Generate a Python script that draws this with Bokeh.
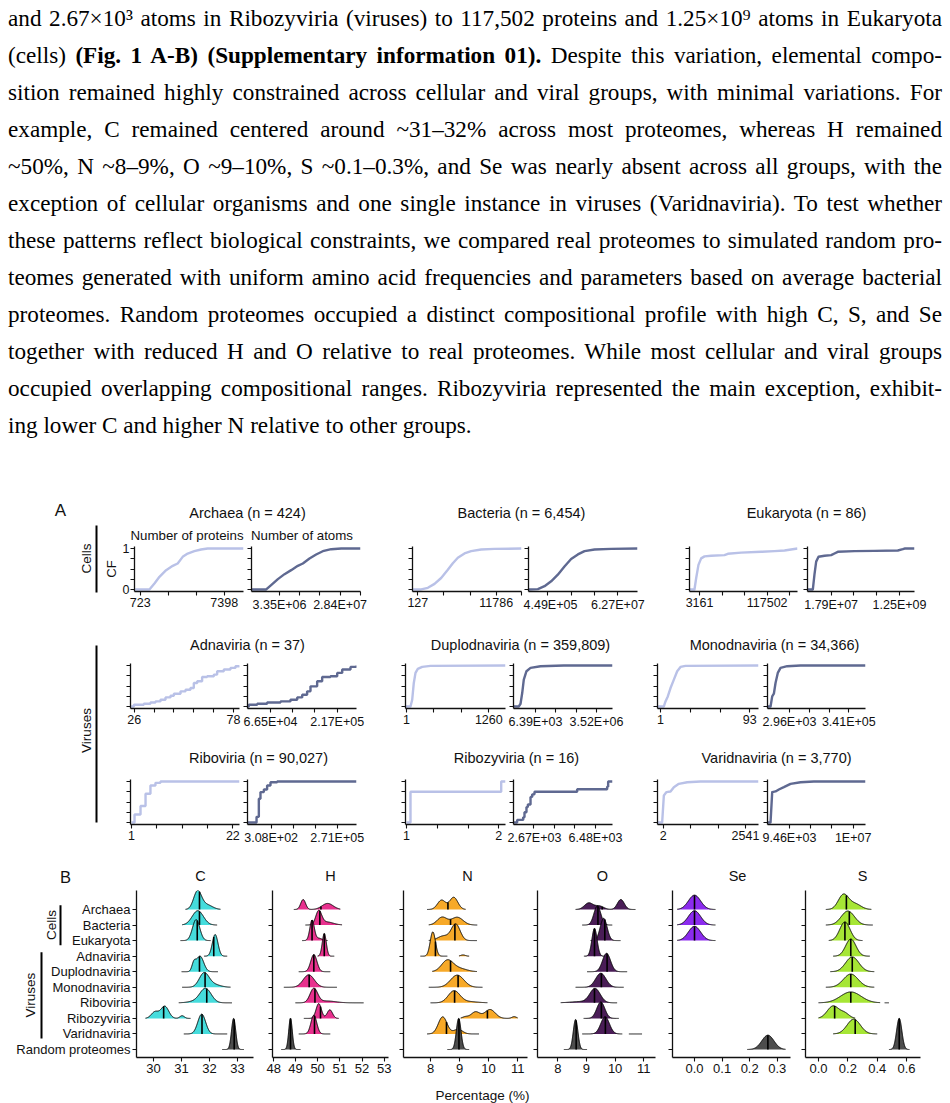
import numpy as np
from bokeh.plotting import figure
from bokeh.models import Div, Spacer, Range1d, FixedTicker, CustomJSTickFormatter
from bokeh.layouts import row, column
from bokeh.core.properties import value
from bokeh.embed import file_html
from bokeh.resources import INLINE

SANS = "Liberation Sans"
SERIF = "Liberation Serif"
INK = "#111111"

# ---------------------------------------------------------------- paragraph
PARAGRAPH = [
    "and 2.67×10³ atoms in Ribozyviria (viruses) to 117,502 proteins and 1.25×10⁹ atoms in Eukaryota",
    "(cells) <b>(Fig. 1 A-B) (Supplementary information 01).</b> Despite this variation, elemental compo-",
    "sition remained highly constrained across cellular and viral groups, with minimal variations. For",
    "example, C remained centered around ~31–32% across most proteomes, whereas H remained",
    "~50%, N ~8–9%, O ~9–10%, S ~0.1–0.3%, and Se was nearly absent across all groups, with the",
    "exception of cellular organisms and one single instance in viruses (Varidnaviria). To test whether",
    "these patterns reflect biological constraints, we compared real proteomes to simulated random pro-",
    "teomes generated with uniform amino acid frequencies and parameters based on average bacterial",
    "proteomes. Random proteomes occupied a distinct compositional profile with high C, S, and Se",
    "together with reduced H and O relative to real proteomes. While most cellular and viral groups",
    "occupied overlapping compositional ranges. Ribozyviria represented the main exception, exhibit-",
    "ing lower C and higher N relative to other groups.",
]

# ---------------------------------------------------------------- panel A data
# cumulative fraction (CF) curves; position is the fraction along each x axis
GROUP_NAMES = ["Archaea", "Bacteria", "Eukaryota",
               "Adnaviria", "Duplodnaviria", "Monodnaviria",
               "Riboviria", "Ribozyviria", "Varidnaviria"]
GROUP_N = ["424", "6,454", "86", "37", "359,809", "34,366", "90,027", "16", "3,770"]

ARCHAEA_PROT_POS = [0.006, 0.137, 0.183, 0.229, 0.290, 0.351, 0.396, 0.442, 0.488, 0.549, 0.610, 0.671, 1.0]
ARCHAEA_PROT_CF = [0, 0, 0.146, 0.309, 0.472, 0.577, 0.634, 0.797, 0.878, 0.935, 0.976, 1.0, 1.0]
ARCHAEA_ATOM_POS = [0.003, 0.135, 0.180, 0.242, 0.303, 0.364, 0.425, 0.471, 0.532, 0.593, 0.654, 0.731, 0.823, 1.0]
ARCHAEA_ATOM_CF = [0, 0, 0.106, 0.252, 0.374, 0.472, 0.577, 0.634, 0.756, 0.854, 0.935, 0.984, 1.0, 1.0]

BACTERIA_PROT_POS = [0.003, 0.080, 0.141, 0.202, 0.263, 0.324, 0.370, 0.416, 0.477, 0.538, 0.630, 0.752, 1.0]
BACTERIA_PROT_CF = [0, 0, 0.04, 0.136, 0.28, 0.48, 0.64, 0.776, 0.88, 0.936, 0.976, 0.992, 1.0]
BACTERIA_ATOM_POS = [0.003, 0.086, 0.147, 0.208, 0.269, 0.330, 0.391, 0.453, 0.514, 0.606, 0.758, 1.0]
BACTERIA_ATOM_CF = [0, 0.008, 0.08, 0.2, 0.36, 0.56, 0.744, 0.856, 0.936, 0.976, 0.992, 1.0]

EUKARYOTA_PROT_POS = [0.003, 0.046, 0.062, 0.083, 0.108, 0.139, 0.201, 0.324, 0.355, 0.478, 0.664, 0.787, 0.88, 1.0]
EUKARYOTA_PROT_CF = [0, 0, 0.28, 0.6, 0.76, 0.808, 0.824, 0.84, 0.872, 0.9, 0.92, 0.936, 0.952, 1.0]
EUKARYOTA_ATOM_POS = [0.003, 0.05, 0.065, 0.081, 0.103, 0.159, 0.221, 0.252, 0.283, 0.439, 0.626, 0.844, 0.891, 0.907, 1.0]
EUKARYOTA_ATOM_CF = [0, 0, 0.36, 0.68, 0.8, 0.824, 0.84, 0.88, 0.92, 0.936, 0.944, 0.952, 0.984, 1.0, 1.0]

ADNAVIRIA_PROT_POS = [0.006, 0.031, 0.122, 0.183, 0.229, 0.275, 0.321, 0.367, 0.398, 0.459, 0.505, 0.550,
                      0.581, 0.612, 0.657, 0.703, 0.765, 0.795, 0.856, 0.917, 0.963, 1.0]
ADNAVIRIA_PROT_CF = [0, 0.041, 0.066, 0.098, 0.123, 0.164, 0.221, 0.262, 0.311, 0.369, 0.41, 0.451,
                     0.574, 0.615, 0.721, 0.738, 0.779, 0.861, 0.902, 0.943, 0.984, 1.0]
ADNAVIRIA_ATOM_POS = [0.003, 0.012, 0.089, 0.180, 0.303, 0.394, 0.456, 0.502, 0.547, 0.578, 0.639, 0.685,
                      0.761, 0.823, 0.869, 0.945, 1.0]
ADNAVIRIA_ATOM_CF = [0, 0.041, 0.066, 0.098, 0.123, 0.164, 0.221, 0.287, 0.369, 0.492, 0.615, 0.721,
                     0.738, 0.82, 0.902, 0.967, 1.0]

DUPLODNAVIRIA_PROT_POS = [0.003, 0.05, 0.067, 0.083, 0.1, 0.123, 0.167, 0.25, 1.0]
DUPLODNAVIRIA_PROT_CF = [0, 0, 0.164, 0.574, 0.82, 0.918, 0.967, 0.992, 1.0]
DUPLODNAVIRIA_ATOM_POS = [0.003, 0.054, 0.071, 0.088, 0.104, 0.131, 0.172, 0.273, 0.508, 1.0]
DUPLODNAVIRIA_ATOM_CF = [0, 0, 0.066, 0.328, 0.656, 0.861, 0.943, 0.984, 1.0, 1.0]

MONODNAVIRIA_PROT_POS = [0.003, 0.063, 0.079, 0.102, 0.129, 0.162, 0.195, 0.228, 0.277, 1.0]
MONODNAVIRIA_PROT_CF = [0, 0, 0.123, 0.246, 0.451, 0.656, 0.861, 0.967, 0.992, 1.0]
MONODNAVIRIA_ATOM_POS = [0.003, 0.031, 0.048, 0.065, 0.082, 0.105, 0.133, 0.201, 0.337, 1.0]
MONODNAVIRIA_ATOM_CF = [0, 0, 0.246, 0.311, 0.574, 0.82, 0.943, 0.984, 1.0, 1.0]

RIBOVIRIA_PROT_POS = [0.009, 0.037, 0.092, 0.138, 0.183, 0.229, 0.275, 1.0]
RIBOVIRIA_PROT_CF = [0, 0.194, 0.403, 0.702, 0.903, 0.968, 1.0, 1.0]
RIBOVIRIA_ATOM_POS = [0.003, 0.058, 0.083, 0.104, 0.119, 0.150, 0.180, 0.211, 0.272, 1.0]
RIBOVIRIA_ATOM_CF = [0, 0, 0.137, 0.581, 0.742, 0.806, 0.903, 0.984, 1.0, 1.0]

RIBOZYVIRIA_PROT_POS = [0.01, 0.05, 0.957, 1.0]
RIBOZYVIRIA_PROT_CF = [0, 0.75, 1.0, 1.0]
RIBOZYVIRIA_ATOM_POS = [0.003, 0.037, 0.098, 0.111, 0.131, 0.145, 0.172, 0.189, 0.212, 0.643, 0.946, 0.956, 1.0]
RIBOZYVIRIA_ATOM_CF = [0, 0.0625, 0.125, 0.25, 0.375, 0.4375, 0.625, 0.6875, 0.75, 0.8125, 0.875, 1.0, 1.0]

VARIDNAVIRIA_PROT_POS = [0.003, 0.046, 0.063, 0.089, 0.129, 0.162, 0.211, 0.294, 0.426, 1.0]
VARIDNAVIRIA_PROT_CF = [0, 0, 0.661, 0.742, 0.758, 0.863, 0.944, 0.984, 1.0, 1.0]
VARIDNAVIRIA_ATOM_POS = [0.003, 0.031, 0.048, 0.082, 0.116, 0.167, 0.235, 0.337, 0.473, 1.0]
VARIDNAVIRIA_ATOM_CF = [0, 0, 0.742, 0.758, 0.806, 0.863, 0.944, 0.984, 1.0, 1.0]

# tick labels at the two ends of every x axis: (min label, max label)
PROT_TICK_LABELS = [("723", "7398"), ("127", "11786"), ("3161", "117502"),
                    ("26", "78"), ("1", "1260"), ("1", "93"),
                    ("1", "22"), ("1", "2"), ("2", "2541")]
ATOM_TICK_LABELS = [("3.35E+06", "2.84E+07"), ("4.49E+05", "6.27E+07"), ("1.79E+07", "1.25E+09"),
                    ("6.65E+04", "2.17E+05"), ("6.39E+03", "3.52E+06"), ("2.96E+03", "3.41E+05"),
                    ("3.08E+02", "2.71E+05"), ("2.67E+03", "6.48E+03"), ("9.46E+03", "1E+07")]

# ---------------------------------------------------------------- panel B data
CATEGORIES = ["Archaea", "Bacteria", "Eukaryota", "Adnaviria", "Duplodnaviria",
              "Monodnaviria", "Riboviria", "Ribozyviria", "Varidnaviria", "Random proteomes"]
ELEMENTS = ["C", "H", "N", "O", "Se", "S"]

# density peaks per ridge: (centre %, spread %, height in rows)
C_SPANS = [[(31.14, 32.39)], [(31.02, 32.27)], [(30.96, 32.04)], [(31.8, 32.63)], [(31.0, 32.3)],
           [(31.02, 32.75)], [(30.9, 32.8)], [(29.71, 31.32)], [(31.08, 32.63)], [(32.45, 33.23)]]
C_PEAKS = [[(31.57, 0.14, 1.15), (31.9, 0.2, 0.3)],
           [(31.58, 0.2, 0.92)],
           [(31.52, 0.13, 1.35)],
           [(32.2, 0.1, 1.39)],
           [(31.44, 0.07, 0.5), (31.66, 0.13, 1.0)],
           [(31.8, 0.17, 0.85), (32.1, 0.25, 0.2)],
           [(31.86, 0.2, 0.9), (31.5, 0.25, 0.1)],
           [(30.05, 0.13, 0.42), (30.4, 0.14, 0.78), (31.02, 0.08, 0.17)],
           [(31.72, 0.14, 1.27)],
           [(32.86, 0.075, 2.0)]]
C_MEDIANS = [31.64, 31.64, 31.56, 32.15, 31.64, 31.84, 31.9, 30.36, 31.73, 32.88]

H_SPANS = [[(48.93, 51.02)], [(49.45, 51.1)], [(49.3, 50.45)], [(50.0, 50.75)], [(49.15, 50.57)],
           [(48.48, 50.87)], [(49.0, 52.07)], [(49.38, 50.95)], [(49.15, 50.57)], [(48.36, 49.23)]]
H_PEAKS = [[(49.35, 0.11, 0.64), (50.45, 0.25, 0.39)],
           [(50.05, 0.13, 0.85), (50.4, 0.3, 0.2)],
           [(49.75, 0.1, 1.3), (50.05, 0.15, 0.15)],
           [(50.3, 0.09, 1.45)],
           [(49.83, 0.14, 1.1)],
           [(49.6, 0.25, 0.8)],
           [(49.83, 0.17, 0.9), (50.4, 0.4, 0.12)],
           [(50.05, 0.12, 0.95), (50.55, 0.12, 0.55)],
           [(49.83, 0.13, 1.2)],
           [(48.78, 0.08, 2.0)]]
H_MEDIANS = [50.15, 50.1, 49.75, 50.3, 49.83, 49.62, 49.88, 50.13, 49.86, 48.78]

N_SPANS = [[(7.88, 9.21)], [(7.94, 9.61)], [(7.94, 9.6)], [(7.65, 8.58), (8.98, 9.33)], [(8.06, 9.6)],
           [(7.94, 9.79)], [(8.0, 9.96)], [(9.04, 11.0)], [(7.88, 9.67)], [(8.58, 9.33)]]
N_PEAKS = [[(8.38, 0.14, 0.6), (8.8, 0.14, 0.78)],
           [(8.4, 0.17, 0.5), (8.92, 0.2, 0.5)],
           [(8.87, 0.15, 1.05), (8.45, 0.2, 0.3)],
           [(8.08, 0.09, 1.56), (9.12, 0.08, 0.08)],
           [(8.58, 0.2, 0.72), (9.0, 0.25, 0.2)],
           [(8.92, 0.23, 0.78)],
           [(8.81, 0.2, 0.76), (9.3, 0.3, 0.08)],
           [(9.2, 0.1, 0.1), (9.55, 0.15, 0.42), (10.05, 0.18, 0.57), (10.88, 0.08, 0.11)],
           [(8.42, 0.15, 1.1), (8.95, 0.15, 0.3)],
           [(8.97, 0.08, 2.0)]]
N_MEDIANS = [8.6, 8.69, 8.84, 8.17, 8.69, 8.95, 8.83, 9.96, 8.55, 8.98]

O_SPANS = [[(8.62, 10.71)], [(8.85, 9.9)], [(9.14, 10.19)], [(8.91, 9.72)], [(9.02, 10.42)],
           [(8.62, 10.3)], [(8.1, 10.07)], [(8.9, 10.13)], [(8.85, 10.25), (10.48, 10.94)], [(8.21, 9.02)]]
O_PEAKS = [[(9.08, 0.15, 0.42), (9.45, 0.15, 0.22), (10.2, 0.12, 0.64)],
           [(9.38, 0.12, 1.22)],
           [(9.6, 0.12, 1.43)],
           [(9.28, 0.09, 1.78)],
           [(9.7, 0.14, 1.18)],
           [(9.5, 0.18, 0.9)],
           [(9.3, 0.18, 0.9), (8.8, 0.35, 0.08)],
           [(9.5, 0.14, 1.05)],
           [(9.65, 0.15, 1.1)],
           [(8.62, 0.08, 1.93)]]
O_MEDIANS = [9.55, 9.4, 9.64, 9.28, 9.72, 9.52, 9.28, 9.52, 9.66, 8.64]

SE_SPANS = [[(-0.063, 0.076)], [(-0.063, 0.076)], [(-0.063, 0.076)], None, None,
            None, None, None, None, [(0.191, 0.33)]]
SE_PEAKS = [[(0.0, 0.022, 0.92)], [(0.0, 0.022, 0.92)], [(0.0, 0.022, 0.92)], None, None,
            None, None, None, None, [(0.266, 0.022, 0.92)]]
SE_MEDIANS = [0.0, 0.0, 0.0, None, None, None, None, None, None, 0.266]

S_SPANS = [[(0.05, 0.36)], [(0.05, 0.37)], [(0.07, 0.3)], [(0.1, 0.35)], [(0.08, 0.38)],
           [(0.05, 0.38)], [(0.0, 0.42), (0.45, 0.48)], [(0.0, 0.25)], [(0.1, 0.4)], [(0.48, 0.62)]]
S_PEAKS = [[(0.17, 0.035, 0.95), (0.25, 0.04, 0.35)],
           [(0.2, 0.045, 0.9)],
           [(0.18, 0.035, 1.2)],
           [(0.22, 0.035, 1.1)],
           [(0.23, 0.045, 0.95)],
           [(0.22, 0.05, 0.85)],
           [(0.22, 0.07, 0.7)],
           [(0.1, 0.04, 0.8), (0.18, 0.03, 0.3)],
           [(0.24, 0.045, 0.95)],
           [(0.55, 0.018, 2.0)]]
S_MEDIANS = [0.19, 0.21, 0.18, 0.22, 0.23, 0.22, 0.22, 0.11, 0.25, 0.55]

C_TICKS, C_TICK_LABELS = [30, 31, 32, 33], ["30", "31", "32", "33"]
H_TICKS, H_TICK_LABELS = [48, 49, 50, 51, 52, 53], ["48", "49", "50", "51", "52", "53"]
N_TICKS, N_TICK_LABELS = [8, 9, 10, 11], ["8", "9", "10", "11"]
O_TICKS, O_TICK_LABELS = [8, 9, 10, 11], ["8", "9", "10", "11"]
SE_TICKS, SE_TICK_LABELS = [0.0, 0.1, 0.2, 0.3], ["0.0", "0.1", "0.2", "0.3"]
S_TICKS, S_TICK_LABELS = [0.0, 0.2, 0.4, 0.6], ["0.0", "0.2", "0.4", "0.6"]

# ---------------------------------------------------------------- styling / layout
PROT_COLOR = "#B9C1E7"
ATOM_COLOR = "#5F6991"
ELEMENT_COLORS = ["#45DCDC", "#E8318E", "#F7A928", "#4A1D57", "#8B2BEE", "#A6E635"]
RANDOM_FILL = "#4D4D4D"

# frame spans (left, right) of the CF axes, per row of panel A
A_FRAMES = [
    [(130, 239), (247, 356), (408, 517), (524, 633), (685, 793), (803, 910)],
    [(130, 239), (247, 356), (405, 505), (513, 612), (657, 758), (767, 865)],
    [(130, 239), (247, 356), (405, 505), (513, 612), (657, 758), (767, 865)],
]
# label positions (axis fraction) of the min/max ticks and number of intervals between them
PROT_TICK_POS = [(0.052, 0.823, 3), (0.049, 0.768, 3), (0.093, 0.719, 3),
                 (0.034, 0.945, 5), (0.01, 0.833, 3), (0.03, 0.914, 3),
                 (0.009, 0.939, 4), (0.01, 0.933, 3), (0.056, 0.871, 3)]
ATOM_TICK_POS = [(0.257, 0.813, 3), (0.177, 0.82, 3), (0.221, 0.86, 3),
                 (0.211, 0.823, 3), (0.222, 0.838, 3), (0.224, 0.83, 3),
                 (0.217, 0.823, 3), (0.205, 0.828, 3), (0.224, 0.874, 3)]
STEPPED = {"Adnaviria", "Riboviria", "Ribozyviria"}
A_TITLE_STRIPS = [(495, 542), (613, 658), (729, 773)]
A_TITLE_Y = [512, 643, 755]
A_TITLE_X = [[247, 521, 806], [247, 520, 774], [258, 516, 776]]

B_FRAMES = [(136, 253), (272, 388), (403, 527), (537, 655), (672, 790), (805, 920)]
B_XRANGES = [(29.39, 33.57), (47.97, 53.19), (7.07, 11.34), (7.29, 11.41), (-0.0798, 0.348), (-0.0886, 0.695)]
B_TITLE_X = [200, 330, 467, 602, 737, 862]


def blank(x0, x1, y_top, y_bot):
    p = figure(width=x1 - x0, height=y_bot - y_top,
               x_range=Range1d(x0, x1), y_range=Range1d(y_bot, y_top),
               toolbar_location=None, output_backend="svg",
               x_axis_type=None, y_axis_type=None, min_border=0)
    p.outline_line_color = None
    p.background_fill_color = "white"
    p.border_fill_color = "white"
    return p


def label(p, x, y, s, size, align="center", angle=0.0, font=SANS, color=INK):
    p.text(x=[x], y=[y], text=[s], text_font=value(font), text_font_size=value(f"{size}px"),
           text_align=align, text_baseline="middle", angle=angle, text_color=color)


def fixed_labels(ticks, labels):
    return CustomJSTickFormatter(
        args=dict(tv=list(ticks), tl=list(labels)),
        code="for (let i = 0; i < tv.length; i++) { if (Math.abs(tv[i] - tick) < 1e-6) return tl[i]; } return '';")


def style_axis(ax, size="12.5px"):
    ax.axis_line_color = INK
    ax.axis_line_width = 1.3
    ax.major_tick_line_color = INK
    ax.major_tick_line_width = 1.1
    ax.major_tick_in = 0
    ax.major_tick_out = 4
    ax.minor_tick_line_color = None
    ax.major_label_text_font = SANS
    ax.major_label_text_font_size = size
    ax.major_label_text_color = INK
    ax.major_label_standoff = 2


def cdf_plot(pos, cf, stepped, color, frame, bl, br, tick_pos, tick_lab, first=False):
    fl, fr = frame
    p = figure(frame_width=fr - fl, frame_height=45,
               x_range=Range1d(0, 1), y_range=Range1d(-0.05, 1.05),
               min_border_left=bl, min_border_right=br, min_border_top=4, min_border_bottom=22,
               toolbar_location=None, output_backend="svg")
    p.outline_line_color = None
    p.xgrid.grid_line_color = None
    p.ygrid.grid_line_color = None
    if stepped:
        p.step(pos, cf, mode="after", line_color=color, line_width=2.4)
    else:
        p.line(pos, cf, line_color=color, line_width=2.4, line_join="round")

    lo, hi, n = tick_pos
    step = (hi - lo) / n
    ticks = [round(lo + i * step, 4) for i in range(n + 1)]
    labs = [tick_lab[0]] + [""] * (n - 1) + [tick_lab[1]]
    nxt = hi + step
    while nxt <= 1.02:
        ticks.append(round(min(nxt, 1.0), 4))
        labs.append("")
        nxt += step
    xa = p.xaxis[0]
    style_axis(xa)
    xa.ticker = FixedTicker(ticks=ticks)
    xa.formatter = fixed_labels(ticks, labs)

    ya = p.yaxis[0]
    style_axis(ya)
    yt = [0, 0.25, 0.5, 0.75, 1.0]
    ya.ticker = FixedTicker(ticks=yt)
    if first:
        ya.formatter = fixed_labels(yt, ["0", "", "", "", "1"])
        ya.major_label_standoff = 1
        ya.axis_label = "CF"
        ya.axis_label_text_font = SANS
        ya.axis_label_text_font_size = "13px"
        ya.axis_label_text_font_style = "normal"
        ya.axis_label_text_color = INK
        ya.axis_label_standoff = 1
    else:
        ya.formatter = fixed_labels(yt, [""] * 5)
        ya.major_label_standoff = 0
    return p


def lay_row(items, x_start, height):
    kids, x = [], x_start
    for left, fig, right in items:
        if left > x:
            kids.append(Spacer(width=left - x, height=height))
        kids.append(fig)
        x = right
    return row(kids, spacing=0)


def density(x, comps):
    out = np.zeros_like(x, dtype=float)
    for mu, sd, h in comps:
        out += h * np.exp(-0.5 * ((x - mu) / sd) ** 2)
    return out


# ---------------------------------------------------------------- paragraph block
lines_html = []
for i, ln in enumerate(PARAGRAPH):
    last = i == len(PARAGRAPH) - 1
    align = "left" if last else "justify"
    lines_html.append(
        f'<div style="height:37px;line-height:37px;text-align:{align};'
        f'text-align-last:{align};white-space:normal;">{ln}</div>')
text_div = Div(
    text=(f'<div style="font-family:\'{SERIF}\';font-size:23.2px;color:#000;'
          f'margin-left:8px;width:934px;">' + "".join(lines_html) + "</div>"),
    width=950, height=495, margin=(0, 0, 0, 0))

# ---------------------------------------------------------------- panel A
curves = {
    "Archaea": (ARCHAEA_PROT_POS, ARCHAEA_PROT_CF, ARCHAEA_ATOM_POS, ARCHAEA_ATOM_CF),
    "Bacteria": (BACTERIA_PROT_POS, BACTERIA_PROT_CF, BACTERIA_ATOM_POS, BACTERIA_ATOM_CF),
    "Eukaryota": (EUKARYOTA_PROT_POS, EUKARYOTA_PROT_CF, EUKARYOTA_ATOM_POS, EUKARYOTA_ATOM_CF),
    "Adnaviria": (ADNAVIRIA_PROT_POS, ADNAVIRIA_PROT_CF, ADNAVIRIA_ATOM_POS, ADNAVIRIA_ATOM_CF),
    "Duplodnaviria": (DUPLODNAVIRIA_PROT_POS, DUPLODNAVIRIA_PROT_CF, DUPLODNAVIRIA_ATOM_POS, DUPLODNAVIRIA_ATOM_CF),
    "Monodnaviria": (MONODNAVIRIA_PROT_POS, MONODNAVIRIA_PROT_CF, MONODNAVIRIA_ATOM_POS, MONODNAVIRIA_ATOM_CF),
    "Riboviria": (RIBOVIRIA_PROT_POS, RIBOVIRIA_PROT_CF, RIBOVIRIA_ATOM_POS, RIBOVIRIA_ATOM_CF),
    "Ribozyviria": (RIBOZYVIRIA_PROT_POS, RIBOZYVIRIA_PROT_CF, RIBOZYVIRIA_ATOM_POS, RIBOZYVIRIA_ATOM_CF),
    "Varidnaviria": (VARIDNAVIRIA_PROT_POS, VARIDNAVIRIA_PROT_CF, VARIDNAVIRIA_ATOM_POS, VARIDNAVIRIA_ATOM_CF),
}

left_a = blank(0, 100, 495, 844)
label(left_a, 60, 510, "A", 17)
label(left_a, 86, 558, "Cells", 13.5, angle=np.pi / 2)
left_a.segment(x0=[96], y0=[525], x1=[96], y1=[592], line_color="black", line_width=2)
label(left_a, 86, 730, "Viruses", 13.5, angle=np.pi / 2)
left_a.segment(x0=[96], y0=[645], x1=[96], y1=[822], line_color="black", line_width=2)

a_rows = []
for r in range(3):
    t0, t1 = A_TITLE_STRIPS[r]
    strip = blank(100, 950, t0, t1)
    for g in range(3):
        gi = 3 * r + g
        label(strip, A_TITLE_X[r][g], A_TITLE_Y[r], f"{GROUP_NAMES[gi]} (n = {GROUP_N[gi]})", 14.5)
    if r == 0:
        fp, fa = A_FRAMES[0][0], A_FRAMES[0][1]
        label(strip, (fp[0] + fp[1]) / 2 + 2, 535, "Number of proteins", 13.3)
        label(strip, (fa[0] + fa[1]) / 2, 535, "Number of atoms", 13.3)
    a_rows.append(strip)

    items = []
    for g in range(3):
        gi = 3 * r + g
        name = GROUP_NAMES[gi]
        ppos, pcf, apos, acf = curves[name]
        fp, fa = A_FRAMES[r][2 * g], A_FRAMES[r][2 * g + 1]
        bl_p = 30 if g == 0 else 7
        br_p = 2
        bl_a = fa[0] - fp[1] - br_p
        br_a = 14
        pp = cdf_plot(ppos, pcf, name in STEPPED, PROT_COLOR, fp, bl_p, br_p,
                      PROT_TICK_POS[gi], PROT_TICK_LABELS[gi], first=(gi == 0))
        pa = cdf_plot(apos, acf, name in STEPPED, ATOM_COLOR, fa, bl_a, br_a,
                      ATOM_TICK_POS[gi], ATOM_TICK_LABELS[gi])
        items.append((fp[0] - bl_p, pp, fp[1] + br_p))
        items.append((fa[0] - bl_a, pa, fa[1] + br_a))
    a_rows.append(lay_row(items, 100, 71))

panel_a = row([left_a, column(a_rows, spacing=0)], spacing=0)

# ---------------------------------------------------------------- panel B
n_cat = len(CATEGORIES)
YR = Range1d(-0.514, 10.22)

title_b = blank(0, 950, 844, 883)
label(title_b, 65, 873, "B", 16.5)
for e, name in enumerate(ELEMENTS):
    label(title_b, B_TITLE_X[e], 872, name, 14.5)

left_b = figure(frame_width=132, frame_height=167, x_range=Range1d(0, 132), y_range=YR,
                min_border_left=0, min_border_right=0, min_border_top=4, min_border_bottom=24,
                toolbar_location=None, output_backend="svg", x_axis_type=None, y_axis_type=None)
left_b.outline_line_color = None
for k, cat in enumerate(CATEGORIES):
    label(left_b, 130, n_cat - 1 - k, cat, 13, align="right")
label(left_b, 51, 8.0, "Cells", 13.5, angle=np.pi / 2)
left_b.segment(x0=[60], y0=[9.27], x1=[60], y1=[6.7], line_color="black", line_width=2)
label(left_b, 30, 3.5, "Viruses", 13.5, angle=np.pi / 2)
left_b.segment(x0=[41], y0=[6.25], x1=[41], y1=[0.7], line_color="black", line_width=2)

element_data = [
    (C_SPANS, C_PEAKS, C_MEDIANS, C_TICKS, C_TICK_LABELS),
    (H_SPANS, H_PEAKS, H_MEDIANS, H_TICKS, H_TICK_LABELS),
    (N_SPANS, N_PEAKS, N_MEDIANS, N_TICKS, N_TICK_LABELS),
    (O_SPANS, O_PEAKS, O_MEDIANS, O_TICKS, O_TICK_LABELS),
    (SE_SPANS, SE_PEAKS, SE_MEDIANS, SE_TICKS, SE_TICK_LABELS),
    (S_SPANS, S_PEAKS, S_MEDIANS, S_TICKS, S_TICK_LABELS),
]

b_items = [(0, left_b, 132)]
for e, (spans, peaks, medians, ticks, tick_labels) in enumerate(element_data):
    fl, fr = B_FRAMES[e]
    bl = 4 if e == 0 else 6
    br = 10 if e == len(ELEMENTS) - 1 else 4
    p = figure(frame_width=fr - fl, frame_height=167,
               x_range=Range1d(*B_XRANGES[e]), y_range=YR,
               min_border_left=bl, min_border_right=br, min_border_top=4, min_border_bottom=24,
               toolbar_location=None, output_backend="svg")
    p.outline_line_color = None
    p.xgrid.grid_line_color = None
    p.ygrid.grid_line_color = None
    for k in range(n_cat):
        if peaks[k] is None:
            continue
        base = n_cat - 1 - k
        fill = RANDOM_FILL if k == n_cat - 1 else ELEMENT_COLORS[e]
        for lo, hi in spans[k]:
            xs = np.linspace(lo, hi, 260)
            d = density(xs, peaks[k])
            p.varea(x=xs, y1=np.full_like(xs, base), y2=base + d, fill_color=fill)
            p.line(xs, base + d, line_color="black", line_width=1.0)
        m = medians[k]
        top = base + density(np.array([m]), peaks[k])[0]
        p.segment(x0=[m], y0=[base], x1=[m], y1=[top], line_color="black", line_width=1.6)
    xa = p.xaxis[0]
    style_axis(xa, "13px")
    xa.ticker = FixedTicker(ticks=ticks)
    xa.formatter = fixed_labels(ticks, tick_labels)
    ya = p.yaxis[0]
    style_axis(ya)
    ya.ticker = FixedTicker(ticks=list(range(n_cat)))
    ya.formatter = fixed_labels(list(range(n_cat)), [""] * n_cat)
    ya.major_label_standoff = 0
    b_items.append((fl - bl, p, fr + br))

b_row = lay_row(b_items, 0, 195)
bottom_b = blank(0, 950, 1078, 1103)
label(bottom_b, 482, 1092, "Percentage (%)", 13.5)

panel_b = column([title_b, b_row, bottom_b], spacing=0)

page = column([text_div, panel_a, panel_b], spacing=0)

open("out.html", "w").write(file_html(page, INLINE))
